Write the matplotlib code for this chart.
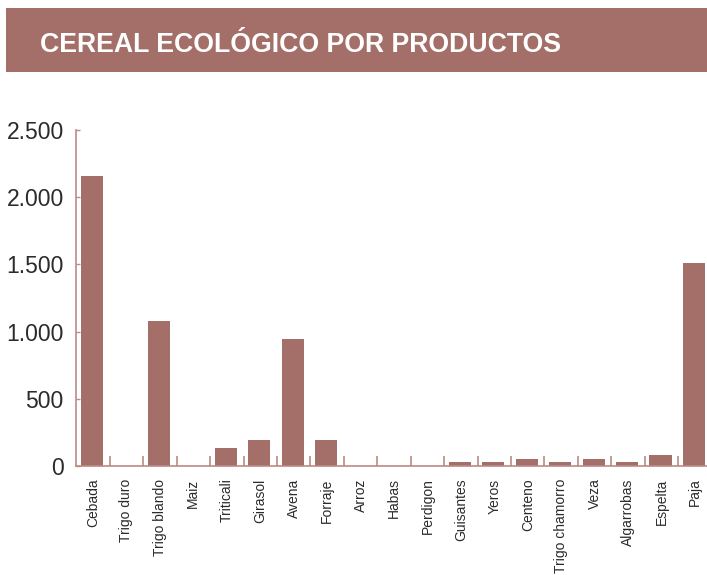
import matplotlib.pyplot as plt
from matplotlib.ticker import FixedLocator, FuncFormatter
from matplotlib.patches import Rectangle

productos = ['Cebada', 'Trigo duro', 'Trigo blando', 'Maiz', 'Triticali', 'Girasol',
             'Avena', 'Forraje', 'Arroz', 'Habas', 'Perdigon', 'Guisantes', 'Yeros',
             'Centeno', 'Trigo chamorro', 'Veza', 'Algarrobas', 'Espelta', 'Paja']
valores = [2160, 0, 1080, 0, 135, 190, 945, 190, 0, 0, 0, 30, 30, 55, 30, 55, 30, 85, 1510]
yticks = [0, 500, 1000, 1500, 2000, 2500]

bar_color = '#a36f68'
spine_color = '#bb8a85'
text_color = '#2b2b2b'

plt.rcParams['font.family'] = ['Liberation Sans', 'DejaVu Sans']

fig = plt.figure(figsize=(7.07, 5.75), dpi=100)

# title banner
fig.patches.append(Rectangle((6 / 707, 1 - 72 / 575), 1, 64 / 575, transform=fig.transFigure,
                             facecolor=bar_color, edgecolor='none', zorder=0))
fig.text(40 / 707, 1 - 45 / 575, 'CEREAL ECOLÓGICO POR PRODUCTOS', color='white',
         fontsize=19.2, fontweight='bold', va='center', ha='left')

ax = fig.add_axes([76.3 / 707, 1 - 466 / 575, 635.4 / 707, 336 / 575])
x = list(range(len(productos)))
ax.bar([i - 0.03 for i in x], valores, width=0.66, color=bar_color, zorder=2)

ax.set_xlim(-0.5, len(productos) - 0.5)
ax.set_ylim(0, 2500)

for s in ['top', 'right']:
    ax.spines[s].set_visible(False)
for s in ['left', 'bottom']:
    ax.spines[s].set_color(spine_color)
    ax.spines[s].set_linewidth(1.2)

# x: boundaries as major ticks, labels on minor ticks
ax.xaxis.set_major_locator(FixedLocator([i + 0.5 for i in x[:-1]]))
ax.xaxis.set_major_formatter(FuncFormatter(lambda v, p: ''))
ax.xaxis.set_minor_locator(FixedLocator(x))
ax.set_xticklabels(productos, minor=True, rotation=90, fontsize=10, color=text_color)
ax.tick_params(axis='x', which='major', direction='in', length=7, width=1.2, color=spine_color)
ax.tick_params(axis='x', which='minor', length=0, pad=9)

ax.yaxis.set_major_locator(FixedLocator(yticks))
ax.yaxis.set_major_formatter(FuncFormatter(lambda v, p: f'{int(v):,}'.replace(',', '.')))
ax.tick_params(axis='y', which='major', direction='in', length=3, width=1, color=spine_color,
               labelsize=16.5, labelcolor=text_color, pad=9)
ax.yaxis.set_minor_locator(FixedLocator([2500]))
ax.tick_params(axis='y', which='minor', direction='in', length=11, width=1.2, color=spine_color)

fig.savefig('out.png', dpi=100)
